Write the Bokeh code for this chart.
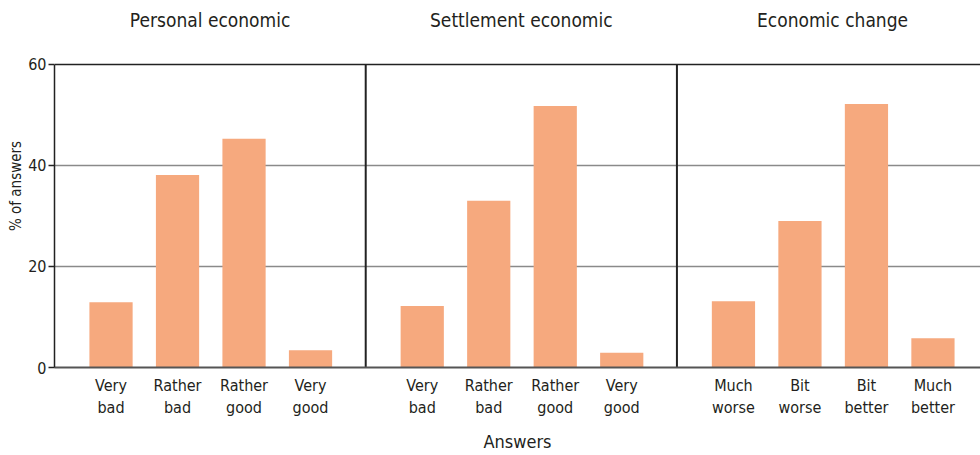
from bokeh.plotting import figure
from bokeh.models import Range1d, FixedTicker, Span, Label, ColumnDataSource
from bokeh.embed import file_html
from bokeh.resources import INLINE

# ---- data ----
panel_titles = ["Personal economic", "Settlement economic", "Economic change"]
personal_labels = ["Very\nbad", "Rather\nbad", "Rather\ngood", "Very\ngood"]
personal_values = [12.9, 38.1, 45.3, 3.4]
settlement_labels = ["Very\nbad", "Rather\nbad", "Rather\ngood", "Very\ngood"]
settlement_values = [12.2, 33.0, 51.8, 2.9]
change_labels = ["Much\nworse", "Bit\nworse", "Bit\nbetter", "Much\nbetter"]
change_values = [13.1, 29.0, 52.2, 5.8]
y_ticks = [0, 20, 40, 60]

# ---- styling ----
FONT = "Liberation Sans Narrow, DejaVu Sans Condensed, Roboto"
TXT = "#231f20"
BAR = "#F6A97E"
PANEL = 4.68     # panel width in category units
OFFSET = 0.85    # first bar centre from panel edge
BAR_W = 0.65

groups = [(personal_labels, personal_values),
          (settlement_labels, settlement_values),
          (change_labels, change_values)]

xs, tops, overrides = [], [], {}
for k, (labels, vals) in enumerate(groups):
    for i, (lab, v) in enumerate(zip(labels, vals)):
        x = round(k * PANEL + OFFSET + i, 3)
        xs.append(x)
        tops.append(v)
        overrides[x] = lab

src = ColumnDataSource(dict(x=xs, top=tops))

p = figure(width=980, height=455, x_range=Range1d(0, 13.925), y_range=Range1d(0, 71.88),
           output_backend="svg", toolbar_location=None,
           min_border_left=54, min_border_right=0, min_border_top=4, min_border_bottom=88)
p.outline_line_color = None
p.background_fill_color = "white"

p.vbar(x="x", top="top", width=BAR_W, bottom=0, source=src, fill_color=BAR, line_color=None)

# grid
p.xgrid.visible = False
p.ygrid.ticker = FixedTicker(ticks=[20, 40])
p.ygrid.grid_line_color = "#8a8a8a"
p.ygrid.grid_line_width = 1.5

# top line and panel separators
p.add_layout(Span(location=y_ticks[-1], dimension="width", line_color="#222222", line_width=1.5))
seps = [k * PANEL for k in range(1, len(groups))]
p.segment(x0=seps, y0=[y_ticks[0]] * len(seps), x1=seps, y1=[y_ticks[-1]] * len(seps),
          line_color="#222222", line_width=2)

# panel titles
for k, t in enumerate(panel_titles):
    p.add_layout(Label(x=k * PANEL + PANEL / 2, y=68.9, text=t, text_align="center",
                       text_baseline="middle", text_font=FONT, text_font_size="19px",
                       text_color=TXT))

# y axis
ya = p.yaxis[0]
ya.ticker = FixedTicker(ticks=y_ticks)
ya.bounds = (y_ticks[0], y_ticks[-1])
ya.axis_label = "% of answers"
ya.axis_label_text_font = FONT
ya.axis_label_text_font_size = "15px"
ya.axis_label_text_font_style = "normal"
ya.axis_label_text_color = TXT
ya.axis_label_standoff = 0
ya.major_label_text_font = FONT
ya.major_label_text_font_size = "16px"
ya.major_label_text_color = TXT
ya.major_label_standoff = 2
ya.major_tick_out = 6
ya.major_tick_in = 0
ya.minor_tick_line_color = None
ya.axis_line_color = "#222222"
ya.axis_line_width = 1.5
ya.major_tick_line_color = "#222222"
ya.major_tick_line_width = 1.5

# x axis
xa = p.xaxis[0]
xa.ticker = FixedTicker(ticks=xs)
xa.major_label_overrides = overrides
xa.axis_label = "Answers"
xa.axis_label_text_font = FONT
xa.axis_label_text_font_size = "18px"
xa.axis_label_text_font_style = "normal"
xa.axis_label_text_color = TXT
xa.axis_label_standoff = 11
xa.major_label_text_font = FONT
xa.major_label_text_font_size = "16px"
xa.major_label_text_color = TXT
xa.major_label_text_line_height = 1.18
xa.major_label_standoff = 8
xa.major_tick_out = 0
xa.major_tick_in = 0
xa.minor_tick_line_color = None
xa.axis_line_color = "#555555"
xa.axis_line_width = 2

open("out.html", "w").write(file_html(p, INLINE))
